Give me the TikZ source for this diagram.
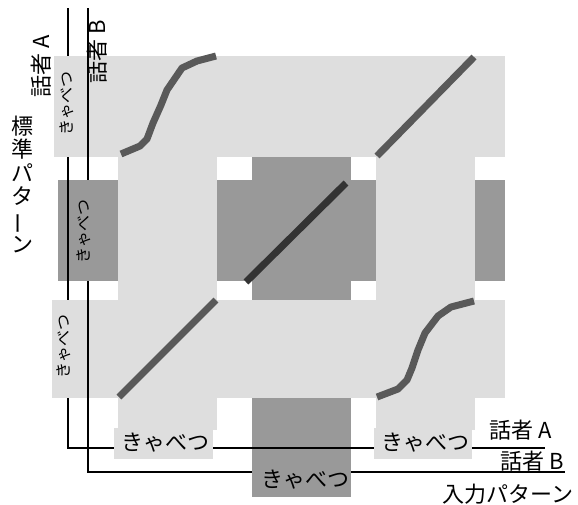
\documentclass[tikz,border=0pt]{standalone}
\usepackage{fontspec}
\setmainfont{Noto Sans CJK JP}
\begin{document}
\begin{tikzpicture}[x=1pt,y=-1pt]
\definecolor{lightg}{HTML}{DEDEDE}
\definecolor{darkg}{HTML}{999999}
\definecolor{pathg}{HTML}{595959}
\definecolor{centerg}{HTML}{333333}
\tikzset{
  axisline/.style={line width=1.7pt, black},
  warp/.style={line width=7pt, pathg, line join=round},
  bigtxt/.style={font=\fontsize{22}{23.6}\selectfont, inner sep=0pt},
  smalltxt/.style={font=\fontsize{16}{16}\selectfont, inner sep=0pt, rotate=90},
}
\useasboundingbox (0,0) rectangle (578,504);
% coordinates of the speaker lines
\coordinate (aTop) at (68,8);
\coordinate (aCorner) at (68,448);
\coordinate (aEnd) at (545,448);
\coordinate (bTop) at (88,8);
\coordinate (bCorner) at (88,472);
\coordinate (bEnd) at (565,472);
% dark (speaker B) bands
\fill[darkg] (58,180) rectangle (505,281);
\fill[darkg] (252,157) rectangle (351,497);
% speaker A line (below the light boxes)
\draw[axisline] (aTop) -- (aCorner) -- (aEnd);
% light (speaker A) bands
\fill[lightg] (54,56) rectangle (505,157);
\fill[lightg] (52,300) rectangle (505,398);
\fill[lightg] (118,56) rectangle (217,430);
\fill[lightg] (376,56) rectangle (475,430);
\fill[lightg] (114,428) rectangle (213,459);
\fill[lightg] (374,428) rectangle (472,459);
% speaker B line (over light boxes)
\draw[axisline] (bTop) -- (bCorner) -- (bEnd);
% dark label boxes hide the B line
\fill[darkg] (58,180) rectangle (118,281);
\fill[darkg] (252,399) rectangle (351,497);
% A line over the dark label boxes
\draw[axisline] (68,180) -- (68,281);
\draw[axisline] (252,448) -- (351,448);
% warping paths
\draw[warp] (121,154) -- (140,146) -- (147,139) -- (153,123) -- (161,105) -- (167,90) -- (182,68) -- (197,61) -- (216,56);
\draw[warp] (377,156) -- (474,57);
\draw[warp, centerg] (246,282) -- (346,183);
\draw[warp] (119,397) -- (216,300);
\draw[warp] (377,397) -- (398,389) -- (407,380) -- (412,368) -- (418,350) -- (425,333) -- (438,316) -- (451,307) -- (474,301);
% labels
\node[smalltxt] (rA1) at (67,103) {きゃべつ};
\node[smalltxt] (rB) at (84,231) {きゃべつ};
\node[smalltxt] (rA2) at (64,346) {きゃべつ};
\node[bigtxt] (cA1) at (165,443) {きゃべつ};
\node[bigtxt] (cB) at (305,480) {きゃべつ};
\node[bigtxt] (cA2) at (425,443) {きゃべつ};
\node[bigtxt, rotate=90] (spA) at (41,66) {話者 A};
\node[bigtxt, rotate=90] (spB) at (97,52) {話者 B};
\node[bigtxt] (spA2) at (521,430) {話者 A};
\node[bigtxt] (spB2) at (532,461) {話者 B};
\node[bigtxt] (inp) at (508,494) {入力パターン};
\node[bigtxt, align=center] (std) at (22,184) {標\\準\\パ\\タ\\\rotatebox[origin=c]{90}{ー}\\ン};
\end{tikzpicture}
\end{document}
